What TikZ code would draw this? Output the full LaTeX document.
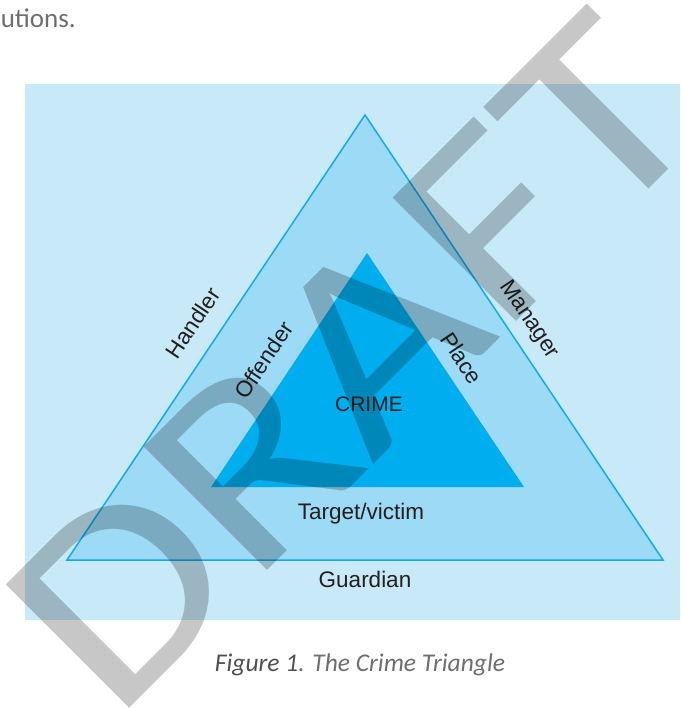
\documentclass[tikz,border=0pt]{standalone}
\usepackage{fontspec}
\setmainfont{Liberation Sans}
\newfontfamily\calibri{Carlito}
\begin{document}
\begin{tikzpicture}[x=1pt,y=-1pt,
  panel/.style={fill=panelblue,draw=none},
  outertri/.style={fill=midblue,draw=edgeblue,line width=1.5pt,line join=miter},
  innertri/.style={fill=crimeblue,draw=none},
  lbl/.style={text=labeltext,font=\fontsize{22.5}{22.5}\selectfont,inner sep=0pt},
  core/.style={text=labeltext,font=\fontsize{21}{21}\selectfont,inner sep=0pt},
  bodytext/.style={text=bodygray,font=\calibri\fontsize{27}{27}\selectfont,inner sep=0pt},
  captiontext/.style={text=bodygray,font=\calibri\itshape\fontsize{25.5}{25.5}\selectfont,inner sep=0pt},
  stamp/.style={text=black,text opacity=0.22,font=\calibri\fontsize{272}{272}\selectfont,inner sep=0pt}]
\definecolor{panelblue}{RGB}{199,233,248}
\definecolor{midblue}{RGB}{157,218,245}
\definecolor{edgeblue}{RGB}{20,170,235}
\definecolor{crimeblue}{RGB}{0,174,239}
\definecolor{labeltext}{RGB}{35,31,32}
\definecolor{bodygray}{RGB}{110,110,110}
\definecolor{figgray}{RGB}{80,80,80}
\useasboundingbox (0,0) rectangle (680,708);
\begin{scope}
\clip (0,0) rectangle (680,708);
\fill[white] (0,0) rectangle (680,708);

% running text above the figure
\node[bodytext,anchor=base east] (prev) at (76,28) {utions.};

% background panel
\fill[panel] (25,84) rectangle (680,620);

% outer and inner triangles
\coordinate (oa) at (365,115);
\coordinate (ol) at (67,560);
\coordinate (or) at (663,560);
\coordinate (ia) at (367,253);
\coordinate (il) at (211,487);
\coordinate (ir) at (524,487);
\filldraw[outertri] (oa) -- (ol) -- (or) -- cycle;
\fill[innertri] (ia) -- (il) -- (ir) -- cycle;

% labels along the sides
\node[lbl,rotate=56.3] (handler) at (193,323) {Handler};
\node[lbl,rotate=56.3] (offender) at (264,360) {Offender};
\node[lbl,rotate=-56.3] (place) at (462,358) {Place};
\node[lbl,rotate=-56.3] (manager) at (529,320) {Manager};
\node[core,anchor=base] (crime) at (369,411) {CRIME};
\node[lbl,anchor=base] (target) at (361,519) {Target/victim};
\node[lbl,anchor=base] (guardian) at (365,587) {Guardian};

% caption
\node[captiontext,anchor=base] (caption) at (360,671) {\textcolor{figgray}{Figure 1}. The Crime Triangle};

% draft stamp, stretched along its baseline
\node[stamp,rotate=45,anchor=base west] (draft) at (114,724) {\scalebox{1.16}[1]{DRAFT}};
\end{scope}
\end{tikzpicture}
\end{document}
